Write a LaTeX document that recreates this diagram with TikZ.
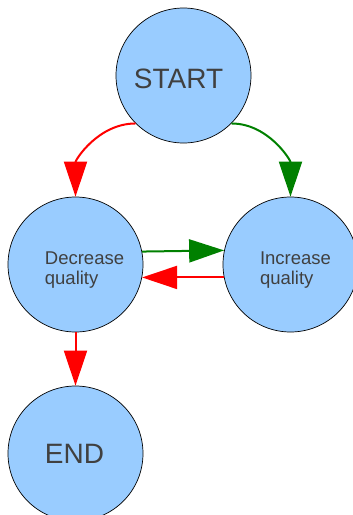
\documentclass[tikz,border=0pt]{standalone}
\usepackage{fontspec}
\setmainfont{Liberation Sans}
\usetikzlibrary{arrows.meta}
\definecolor{statefill}{RGB}{153,204,255}
\definecolor{labelgrey}{RGB}{64,64,64}
\definecolor{okgreen}{RGB}{0,128,0}
\begin{document}
\begin{tikzpicture}[x=1pt,y=1pt,
  state/.style={circle,draw=black,line width=0.7pt,fill=statefill,minimum size=135pt,inner sep=0pt},
  bigtext/.style={text=labelgrey,font=\fontsize{28}{30}\selectfont},
  smalltext/.style={text=labelgrey,font=\fontsize{18.5}{20}\selectfont,align=left},
  edge/.style={line width=2pt,-{Triangle[length=35pt,width=23pt]}}]
\useasboundingbox (0,0) rectangle (353,-515);
% states
\node[state,label={[bigtext,xshift=-5pt,yshift=-3pt]center:START}] (start) at (183.5,-75.5) {};
\node[state,label={[smalltext,xshift=9pt,yshift=-6pt]center:Decrease\\quality}] (dec) at (75.5,-264.5) {};
\node[state,label={[smalltext,xshift=5pt,yshift=-6pt]center:Increase\\quality}] (inc) at (290.5,-264.5) {};
\node[state,label={[bigtext,xshift=-1pt]center:END}] (end) at (75.5,-453.5) {};
% transitions
\draw[edge,red] (start.225) to[out=180,in=90] (dec.north);
\draw[edge,okgreen] (start.-45) to[out=0,in=90] (inc.north);
\draw[edge,okgreen] (dec.11.5) -- (inc.168.5);
\draw[edge,red] (inc.191.5) -- (dec.-11.5);
\draw[edge,red] (dec.south) -- (end.north);
\end{tikzpicture}
\end{document}
